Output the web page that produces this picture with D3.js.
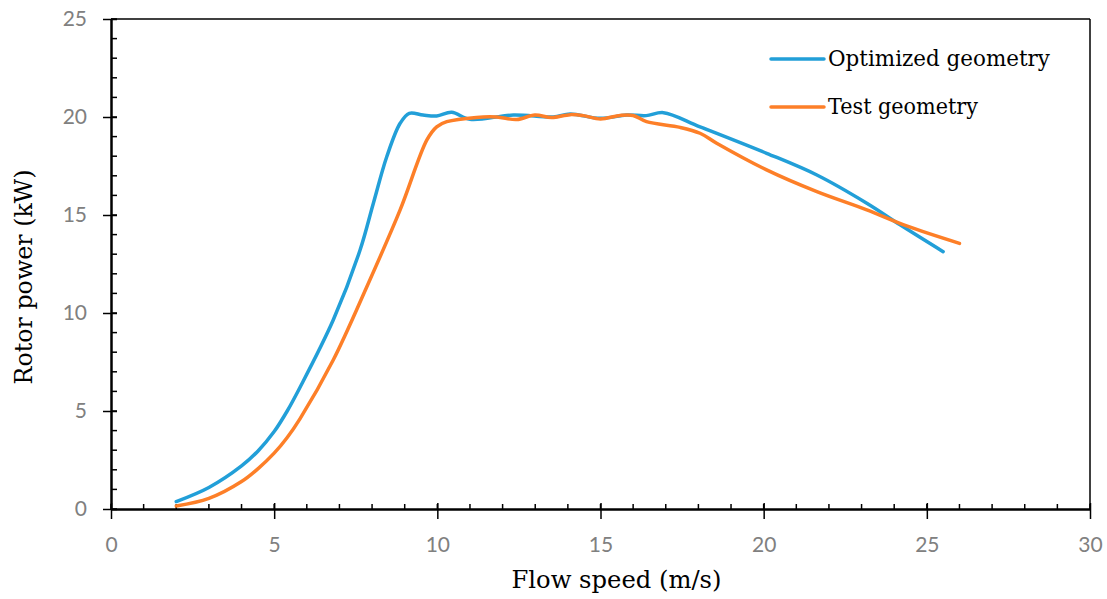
<!DOCTYPE html>
<html>
<head>
<meta charset="utf-8">
<script src="https://cdn.jsdelivr.net/npm/d3@7"></script>
<style>
  body { margin: 0; background: #fff; }
  svg { display: block; }
</style>
</head>
<body>
<div id="container"></div>
<script>
// Data
const optSpeed = [2.0, 3.0, 4.0, 4.5, 5.0, 5.4, 5.79, 6.81, 7.63, 8.04, 8.45, 8.86, 9.14, 9.56, 9.98, 10.44, 11.0, 12.33, 13.55, 14.07, 15.0, 15.8, 16.4, 16.93, 18.05, 20.09, 21.63, 23.16, 24.18, 25.5];
const optPower = [0.38, 1.1, 2.2, 2.95, 3.95, 5.0, 6.2, 9.64, 13.2, 15.6, 17.97, 19.68, 20.19, 20.1, 20.05, 20.24, 19.88, 20.1, 20.0, 20.15, 19.93, 20.1, 20.07, 20.22, 19.5, 18.15, 17.04, 15.6, 14.5, 13.13];

const testSpeed = [2.0, 3.0, 4.0, 4.5, 5.0, 5.4, 5.79, 6.81, 7.84, 8.86, 9.68, 9.98, 10.29, 11.2, 11.82, 12.43, 12.99, 13.5, 14.07, 14.47, 15.0, 15.6, 16.0, 16.41, 17.44, 18.05, 18.56, 20.09, 21.63, 23.16, 24.38, 26.0];
const testPower = [0.15, 0.54, 1.4, 2.05, 2.85, 3.65, 4.6, 7.6, 11.34, 15.26, 18.83, 19.5, 19.76, 19.98, 20.0, 19.87, 20.1, 19.97, 20.12, 20.07, 19.9, 20.08, 20.08, 19.76, 19.47, 19.17, 18.66, 17.3, 16.19, 15.26, 14.44, 13.55];

const seriesNames = ["Optimized geometry", "Test geometry"];
const seriesColors = ["#229fd8", "#fd7f28"];

const xTicks = [0, 5, 10, 15, 20, 25, 30];
const yTicks = [0, 5, 10, 15, 20, 25];

const width = 1107, height = 599;
const margin = { top: 19, right: 17, bottom: 90, left: 111 };
const innerW = width - margin.left - margin.right;
const innerH = height - margin.top - margin.bottom;

const titleFont = "'DejaVu Serif', serif";
const tickFont = "Lato, 'Open Sans', sans-serif";

const svg = d3.select("#container")
    .append("svg")
    .attr("width", width)
    .attr("height", height);

const g = svg.append("g")
    .attr("transform", "translate(" + margin.left + "," + margin.top + ")");

const x = d3.scaleLinear().domain([0, 30]).range([0, innerW]);
const y = d3.scaleLinear().domain([0, 25]).range([innerH, 0]);

// Frame (top and right)
g.append("line")
    .attr("x1", 0).attr("x2", innerW).attr("y1", 0).attr("y2", 0)
    .attr("stroke", "#000").attr("stroke-width", 1.5);
g.append("line")
    .attr("x1", innerW).attr("x2", innerW).attr("y1", 0).attr("y2", innerH)
    .attr("stroke", "#000").attr("stroke-width", 1.5);

// Minor ticks (inside)
const minorX = d3.range(0, 31, 1);
const minorY = d3.range(0, 26, 1);
g.append("g")
    .selectAll("line")
    .data(minorX)
    .join("line")
    .attr("x1", d => x(d)).attr("x2", d => x(d))
    .attr("y1", innerH).attr("y2", innerH - 5)
    .attr("stroke", "#000").attr("stroke-width", 1.5);
g.append("g")
    .selectAll("line")
    .data(minorY)
    .join("line")
    .attr("x1", 0).attr("x2", 6)
    .attr("y1", d => y(d)).attr("y2", d => y(d))
    .attr("stroke", "#000").attr("stroke-width", 1.5);

// X axis
const xAxis = g.append("g")
    .attr("transform", "translate(0," + innerH + ")")
    .call(d3.axisBottom(x).tickValues(xTicks).tickSizeInner(10).tickSizeOuter(0).tickPadding(18));
xAxis.select(".domain").attr("stroke-width", 2.5);
xAxis.selectAll(".tick line").attr("stroke-width", 1.5).attr("y1", -6);
xAxis.selectAll(".tick text")
    .attr("fill", "#808080")
    .style("font-family", tickFont)
    .style("font-size", "21px");

// Y axis
const yAxis = g.append("g")
    .call(d3.axisLeft(y).tickValues(yTicks).tickSizeInner(8).tickSizeOuter(0).tickPadding(16));
yAxis.select(".domain").attr("stroke-width", 2.5);
yAxis.selectAll(".tick line").attr("stroke-width", 1.5).attr("x1", 6);
yAxis.selectAll(".tick text")
    .attr("fill", "#808080")
    .style("font-family", tickFont)
    .style("font-size", "21px");

// Axis titles
g.append("text")
    .attr("x", innerW / 2 + 16)
    .attr("y", innerH + 79)
    .attr("text-anchor", "middle")
    .attr("textLength", 210)
    .attr("lengthAdjust", "spacingAndGlyphs")
    .style("font-family", titleFont)
    .style("font-size", "24px")
    .text("Flow speed (m/s)");

g.append("text")
    .attr("transform", "rotate(-90)")
    .attr("x", -258)
    .attr("y", -79)
    .attr("text-anchor", "middle")
    .attr("textLength", 215)
    .attr("lengthAdjust", "spacingAndGlyphs")
    .style("font-family", titleFont)
    .style("font-size", "24px")
    .text("Rotor power (kW)");

// Lines
const series = [
    optSpeed.map((s, i) => ({ x: s, y: optPower[i] })),
    testSpeed.map((s, i) => ({ x: s, y: testPower[i] }))
];
const line = d3.line()
    .x(d => x(d.x))
    .y(d => y(d.y))
    .curve(d3.curveCatmullRom.alpha(0.5));

[0, 1].forEach(i => {
    g.append("path")
        .datum(series[i])
        .attr("fill", "none")
        .attr("stroke", seriesColors[i])
        .attr("stroke-width", 3.5)
        .attr("stroke-linecap", "round")
        .attr("d", line);
});

// Legend
const legendWidths = [222, 150];
const legend = svg.append("g");
seriesNames.forEach((name, i) => {
    const ly = 59 + i * 48;
    legend.append("line")
        .attr("x1", 771).attr("x2", 824)
        .attr("y1", ly).attr("y2", ly)
        .attr("stroke", seriesColors[i])
        .attr("stroke-width", 3.5)
        .attr("stroke-linecap", "round");
    legend.append("text")
        .attr("x", 828)
        .attr("y", ly + 7)
        .attr("textLength", legendWidths[i])
        .attr("lengthAdjust", "spacingAndGlyphs")
        .style("font-family", titleFont)
        .style("font-size", "23px")
        .text(name);
});
</script>
</body>
</html>
